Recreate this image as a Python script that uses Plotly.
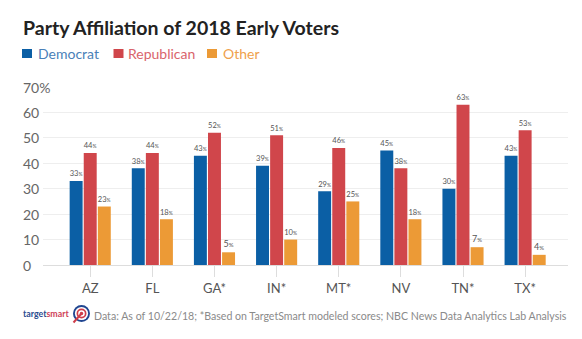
import plotly.graph_objects as go

# Party affiliation of early voters by state (percent)
states = ["AZ", "FL", "GA*", "IN*", "MT*", "NV", "TN*", "TX*"]
democrat = [33, 38, 43, 39, 29, 45, 30, 43]
republican = [44, 44, 52, 51, 46, 38, 63, 53]
other = [23, 18, 5, 10, 25, 18, 7, 4]

y_ticks = [0, 10, 20, 30, 40, 50, 60, 70]
y_tick_labels = ["0", "10", "20", "30", "40", "50", "60", "70%"]

series_names = ["Democrat", "Republican", "Other"]
series_values = [democrat, republican, other]
bar_colors = ["#0b5fa5", "#d0464b", "#ec9a36"]
key_text_colors = ["#4a80b8", "#d9646c", "#efa14c"]

FONT = "Lato"
W, H = 582, 339
L, R, T, B = 43, 14, 87, 74
plot_w = W - L - R
plot_h = H - T - B


def px_x(px):
    return (px - L) / plot_w


def px_y(py):
    return (H - B - py) / plot_h


fig = go.Figure()
for name, vals, color in zip(series_names, series_values, bar_colors):
    fig.add_trace(go.Bar(
        x=states,
        y=vals,
        name=name,
        marker=dict(color=color, line=dict(width=0)),
        texttemplate="%{y}<span style='font-size:6px'>%</span>",
        textposition="outside",
        textfont=dict(family=FONT, size=9, color="#555555"),
        cliponaxis=False,
        hoverinfo="skip",
    ))

annotations = []
shapes = []

# Y-axis labels, left aligned at the chart edge
for v, lab in zip(y_ticks, y_tick_labels):
    annotations.append(dict(
        x=px_x(21), xref="paper", y=v, yref="y",
        text=lab, showarrow=False, xanchor="left", yanchor="middle",
        font=dict(family=FONT, size=14, color="#666666"),
    ))

# Title
annotations.append(dict(
    x=px_x(21), xref="paper", y=px_y(28), yref="paper",
    text="<b>Party Affiliation of 2018 Early Voters</b>", showarrow=False,
    xanchor="left", yanchor="middle",
    font=dict(family=FONT, size=19.5, color="#222222"),
))

# Colour key: square swatch + coloured label for each series
key_square_x = [27, 118.5, 212]
key_text_x = [36, 126, 221]
key_y = px_y(53.5)
for name, col, tcol, sx, tx in zip(series_names, bar_colors, key_text_colors,
                                   key_square_x, key_text_x):
    shapes.append(dict(
        type="rect", xref="paper", yref="paper",
        xsizemode="pixel", ysizemode="pixel", xanchor=px_x(sx), yanchor=key_y,
        x0=-5, x1=5, y0=-4.5, y1=4.5,
        fillcolor=col, line=dict(width=0),
    ))
    annotations.append(dict(
        x=px_x(tx), xref="paper", y=key_y, yref="paper",
        text=name, showarrow=False, xanchor="left", yanchor="middle",
        font=dict(family=FONT, size=14, color=tcol),
    ))

# Source line with logo wordmark
annotations.append(dict(
    x=px_x(21), xref="paper", y=px_y(313), yref="paper",
    text='<b><span style="color:#2a4d8f">target</span><span style="color:#cf4257">smart</span></b>',
    showarrow=False, xanchor="left", yanchor="middle",
    font=dict(family=FONT, size=8.8, color="#2a4d8f"),
))
annotations.append(dict(
    x=px_x(92), xref="paper", y=px_y(316), yref="paper",
    text="Data: As of 10/22/18; *Based on TargetSmart modeled scores; NBC News Data Analytics Lab Analysis",
    showarrow=False, xanchor="left", yanchor="middle",
    font=dict(family=FONT, size=10.6, color="#8a8a8a"),
))

# Logo target icon
cx, cy = px_x(81.5), px_y(313.5)
for r, col in [(8.5, "#1f4590"), (6.6, "white"), (5.0, "#cf3d4a"), (3.3, "white"), (1.8, "#cf3d4a")]:
    shapes.append(dict(
        type="circle", xref="paper", yref="paper",
        xsizemode="pixel", ysizemode="pixel", xanchor=cx, yanchor=cy,
        x0=-r, x1=r, y0=-r, y1=r,
        fillcolor=col, line=dict(width=0),
    ))
shapes.append(dict(
    type="line", xref="paper", yref="paper",
    xsizemode="pixel", ysizemode="pixel", xanchor=cx, yanchor=cy,
    x0=0, y0=0, x1=-8, y1=-9,
    line=dict(color="#cf3d4a", width=2),
))

fig.update_layout(
    width=W, height=H,
    margin=dict(l=L, r=R, t=T, b=B),
    paper_bgcolor="white", plot_bgcolor="white",
    barmode="group", bargap=0.32, bargroupgap=0.08,
    font=dict(family=FONT, color="#555555"),
    showlegend=False,
    xaxis=dict(
        range=[-0.76, 7.69], showgrid=False, showline=False, zeroline=False,
        ticks="outside", ticklen=11, tickcolor="#dddddd", tickwidth=1,
        tickfont=dict(family=FONT, size=13, color="#555555"),
        fixedrange=True,
    ),
    yaxis=dict(
        range=[0, 70], tickvals=y_ticks, showticklabels=False,
        showgrid=True, gridcolor="#eeeeee", gridwidth=1,
        zeroline=True, zerolinecolor="#dddddd", zerolinewidth=1,
        fixedrange=True,
    ),
    annotations=annotations,
    shapes=shapes,
)

fig.write_html("out.html")
